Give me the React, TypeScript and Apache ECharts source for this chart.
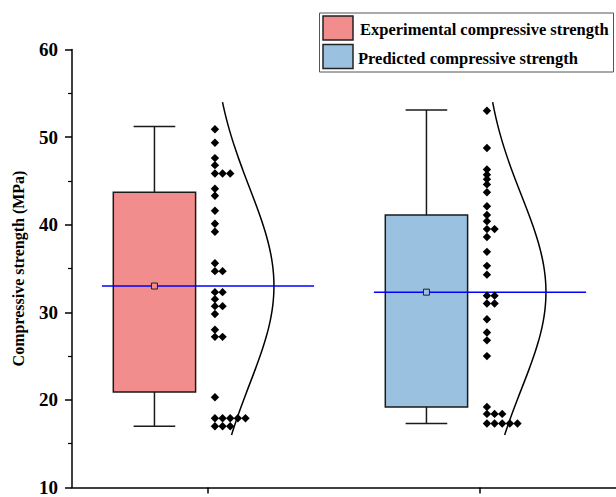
import React, { useEffect, useRef } from "react";
import * as echarts from "echarts";

// Groups compared in the chart
const groups = ["Experimental compressive strength", "Predicted compressive strength"];
const boxColors = ["#F28D8D", "#9BC1E1"];

// Box statistics (MPa) per group
const whiskerLow = [17.0, 17.3];
const boxQ1 = [20.9, 19.2];
const boxQ3 = [43.7, 41.1];
const whiskerHigh = [51.2, 53.1];
const meanValues = [33.0, 32.3];

// Range over which the fitted normal curves are drawn
const curveRange = [16.0, 54.0];

// Individual samples (MPa)
const experimentalPoints = [
  50.9, 49.35, 47.6, 46.8, 45.85, 45.85, 45.85, 44.1, 43.3, 41.6, 40.1, 39.2,
  35.6, 34.7, 34.7, 32.3, 32.3, 31.5, 30.7, 30.7, 29.8, 28.0, 27.2, 27.2, 20.3,
  17.9, 17.9, 17.9, 17.9, 17.9, 17.0, 17.0, 17.0,
];
const predictedPoints = [
  53.0, 48.75, 46.3, 45.7, 45.2, 44.6, 43.7, 42.1, 41.1, 40.4, 39.5, 39.5, 38.6,
  36.9, 35.3, 34.3, 31.9, 31.9, 31.0, 31.0, 29.2, 27.7, 26.8, 25.0, 19.2, 18.4,
  18.4, 18.4, 17.3, 17.3, 17.3, 17.3, 17.3,
];

// Y axis
const yMin = 10;
const yMax = 60;
const yInterval = 10;

const FONT = "'Liberation Serif', 'Times New Roman', serif";
const REF_BAND = 274.3;

function stdDev(values: number[]): number {
  const m = values.reduce((a, b) => a + b, 0) / values.length;
  const ss = values.reduce((a, b) => a + (b - m) * (b - m), 0);
  return Math.sqrt(ss / (values.length - 1));
}

// Stack repeated values side by side
function withColumns(values: number[], group: number): number[][] {
  const seen: Record<string, number> = {};
  return values.map((v) => {
    const key = v.toFixed(2);
    const col = seen[key] || 0;
    seen[key] = col + 1;
    return [group, v, col];
  });
}

export default function App() {
  const ref = useRef<HTMLDivElement>(null);

  useEffect(() => {
    if (!ref.current) return;
    const chart = echarts.init(ref.current, undefined, { renderer: "svg" });
    const sigmas = [stdDev(experimentalPoints), stdDev(predictedPoints)];

    const bandOf = (api: any) =>
      api.coord([1, yMin])[0] - api.coord([0, yMin])[0];

    const boxSeries = {
      type: "custom",
      name: "box",
      z: 3,
      data: groups.map((_, i) => [i, meanValues[i]]),
      encode: { x: 0, y: 1 },
      renderItem: (params: any, api: any) => {
        const i = api.value(0);
        const band = bandOf(api);
        const s = band / REF_BAND;
        const cx = api.coord([i, meanValues[i]])[0];
        const bc = cx - 54 * s;
        const yLow = api.coord([i, whiskerLow[i]])[1];
        const yQ1 = api.coord([i, boxQ1[i]])[1];
        const yQ3 = api.coord([i, boxQ3[i]])[1];
        const yHigh = api.coord([i, whiskerHigh[i]])[1];
        const yMean = api.coord([i, meanValues[i]])[1];
        const halfBox = 41.5 * s;
        const halfCap = 21 * s;
        const lineStyle = { stroke: "#1a1a1a", lineWidth: 1.5 };
        return {
          type: "group",
          children: [
            { type: "line", shape: { x1: bc, y1: yHigh, x2: bc, y2: yQ3 }, style: lineStyle },
            { type: "line", shape: { x1: bc, y1: yQ1, x2: bc, y2: yLow }, style: lineStyle },
            { type: "line", shape: { x1: bc - halfCap, y1: yHigh, x2: bc + halfCap, y2: yHigh }, style: lineStyle },
            { type: "line", shape: { x1: bc - halfCap, y1: yLow, x2: bc + halfCap, y2: yLow }, style: lineStyle },
            {
              type: "rect",
              shape: { x: bc - halfBox, y: yQ3, width: 2 * halfBox, height: yQ1 - yQ3 },
              style: { fill: boxColors[i], stroke: "#1a1a1a", lineWidth: 1.5 },
            },
            {
              type: "line",
              shape: { x1: cx - 107 * s, y1: yMean, x2: cx + 107 * s, y2: yMean },
              style: { stroke: "#0000FF", lineWidth: 1.5 },
            },
            {
              type: "rect",
              shape: { x: bc - 3, y: yMean - 3, width: 6, height: 6 },
              style: { fill: boxColors[i], stroke: "#222", lineWidth: 1 },
            },
          ],
        };
      },
    };

    const pointsSeries = {
      type: "custom",
      name: "points",
      z: 4,
      data: [...withColumns(experimentalPoints, 0), ...withColumns(predictedPoints, 1)],
      encode: { x: 0, y: 1 },
      renderItem: (params: any, api: any) => {
        const i = api.value(0);
        const v = api.value(1);
        const col = api.value(2);
        const s = bandOf(api) / REF_BAND;
        const [cx, cy] = api.coord([i, v]);
        const x = cx + 7 * s + col * 7.7 * s;
        const r = 4.2;
        return {
          type: "polygon",
          shape: { points: [[x, cy - r], [x + r, cy], [x, cy + r], [x - r, cy]] },
          style: { fill: "#000" },
        };
      },
    };

    const curveSeries = {
      type: "custom",
      name: "curve",
      z: 2,
      data: groups.map((_, i) => [i, meanValues[i]]),
      encode: { x: 0, y: 1 },
      renderItem: (params: any, api: any) => {
        const i = api.value(0);
        const s = bandOf(api) / REF_BAND;
        const cx = api.coord([i, meanValues[i]])[0];
        const m = meanValues[i];
        const sd = sigmas[i];
        const pts: number[][] = [];
        for (let v = curveRange[0]; v <= curveRange[1] + 1e-9; v += 0.2) {
          const y = api.coord([i, v])[1];
          const x = cx + 3.5 * s + 63 * s * Math.exp(-((v - m) * (v - m)) / (2 * sd * sd));
          pts.push([x, y]);
        }
        return {
          type: "polyline",
          shape: { points: pts },
          style: { stroke: "#000", lineWidth: 1.5, fill: "none" },
        };
      },
    };

    const legendGraphic = [
      {
        type: "rect",
        left: 319,
        top: 12.5,
        shape: { width: 294, height: 59 },
        style: { fill: "#fff", stroke: "#555", lineWidth: 1 },
        z: 10,
      },
      ...groups.map((name, i) => ({
        type: "group",
        z: 11,
        children: [
          {
            type: "rect",
            shape: { x: 323, y: 16 + i * 28.5, width: 30, height: 24 },
            style: { fill: boxColors[i], stroke: "#222", lineWidth: 1.5 },
            z: 11,
          },
          {
            type: "text",
            x: i === 0 ? 360 : 358,
            y: 29.5 + i * 28.5,
            style: {
              text: name,
              font: `bold 16.5px ${FONT}`,
              fill: "#000",
              verticalAlign: "middle",
              align: "left",
            },
            z: 11,
          },
        ],
      })),
    ];

    chart.setOption({
      animation: false,
      backgroundColor: "#fff",
      grid: { left: 72, top: 49.5, width: 548.6, height: 442 },
      xAxis: {
        type: "category",
        data: groups,
        boundaryGap: true,
        axisLine: { show: true, lineStyle: { color: "#000", width: 1.5 } },
        axisTick: { show: true, alignWithLabel: true, length: 6, lineStyle: { color: "#000", width: 1.5 } },
        axisLabel: { show: false },
        splitLine: { show: false },
      },
      yAxis: {
        type: "value",
        min: yMin,
        max: yMax,
        interval: yInterval,
        name: "Compressive strength (MPa)",
        nameLocation: "middle",
        nameGap: 46,
        nameTextStyle: { fontFamily: FONT, fontWeight: "bold", fontSize: 16, color: "#000" },
        axisLine: { show: true, lineStyle: { color: "#000", width: 1.5 } },
        axisTick: { show: true, length: 7, lineStyle: { color: "#000", width: 1.5 } },
        minorTick: { show: true, splitNumber: 2, length: 4, lineStyle: { color: "#000", width: 1.2 } },
        axisLabel: { fontFamily: FONT, fontWeight: "bold", fontSize: 19, color: "#000", margin: 14 },
        splitLine: { show: false },
      },
      graphic: legendGraphic,
      series: [curveSeries, boxSeries, pointsSeries],
    });

    return () => chart.dispose();
  }, []);

  return (
    <div
      ref={ref}
      style={{ position: "absolute", left: 0, top: 0, width: 616, height: 497 }}
    />
  );
}
